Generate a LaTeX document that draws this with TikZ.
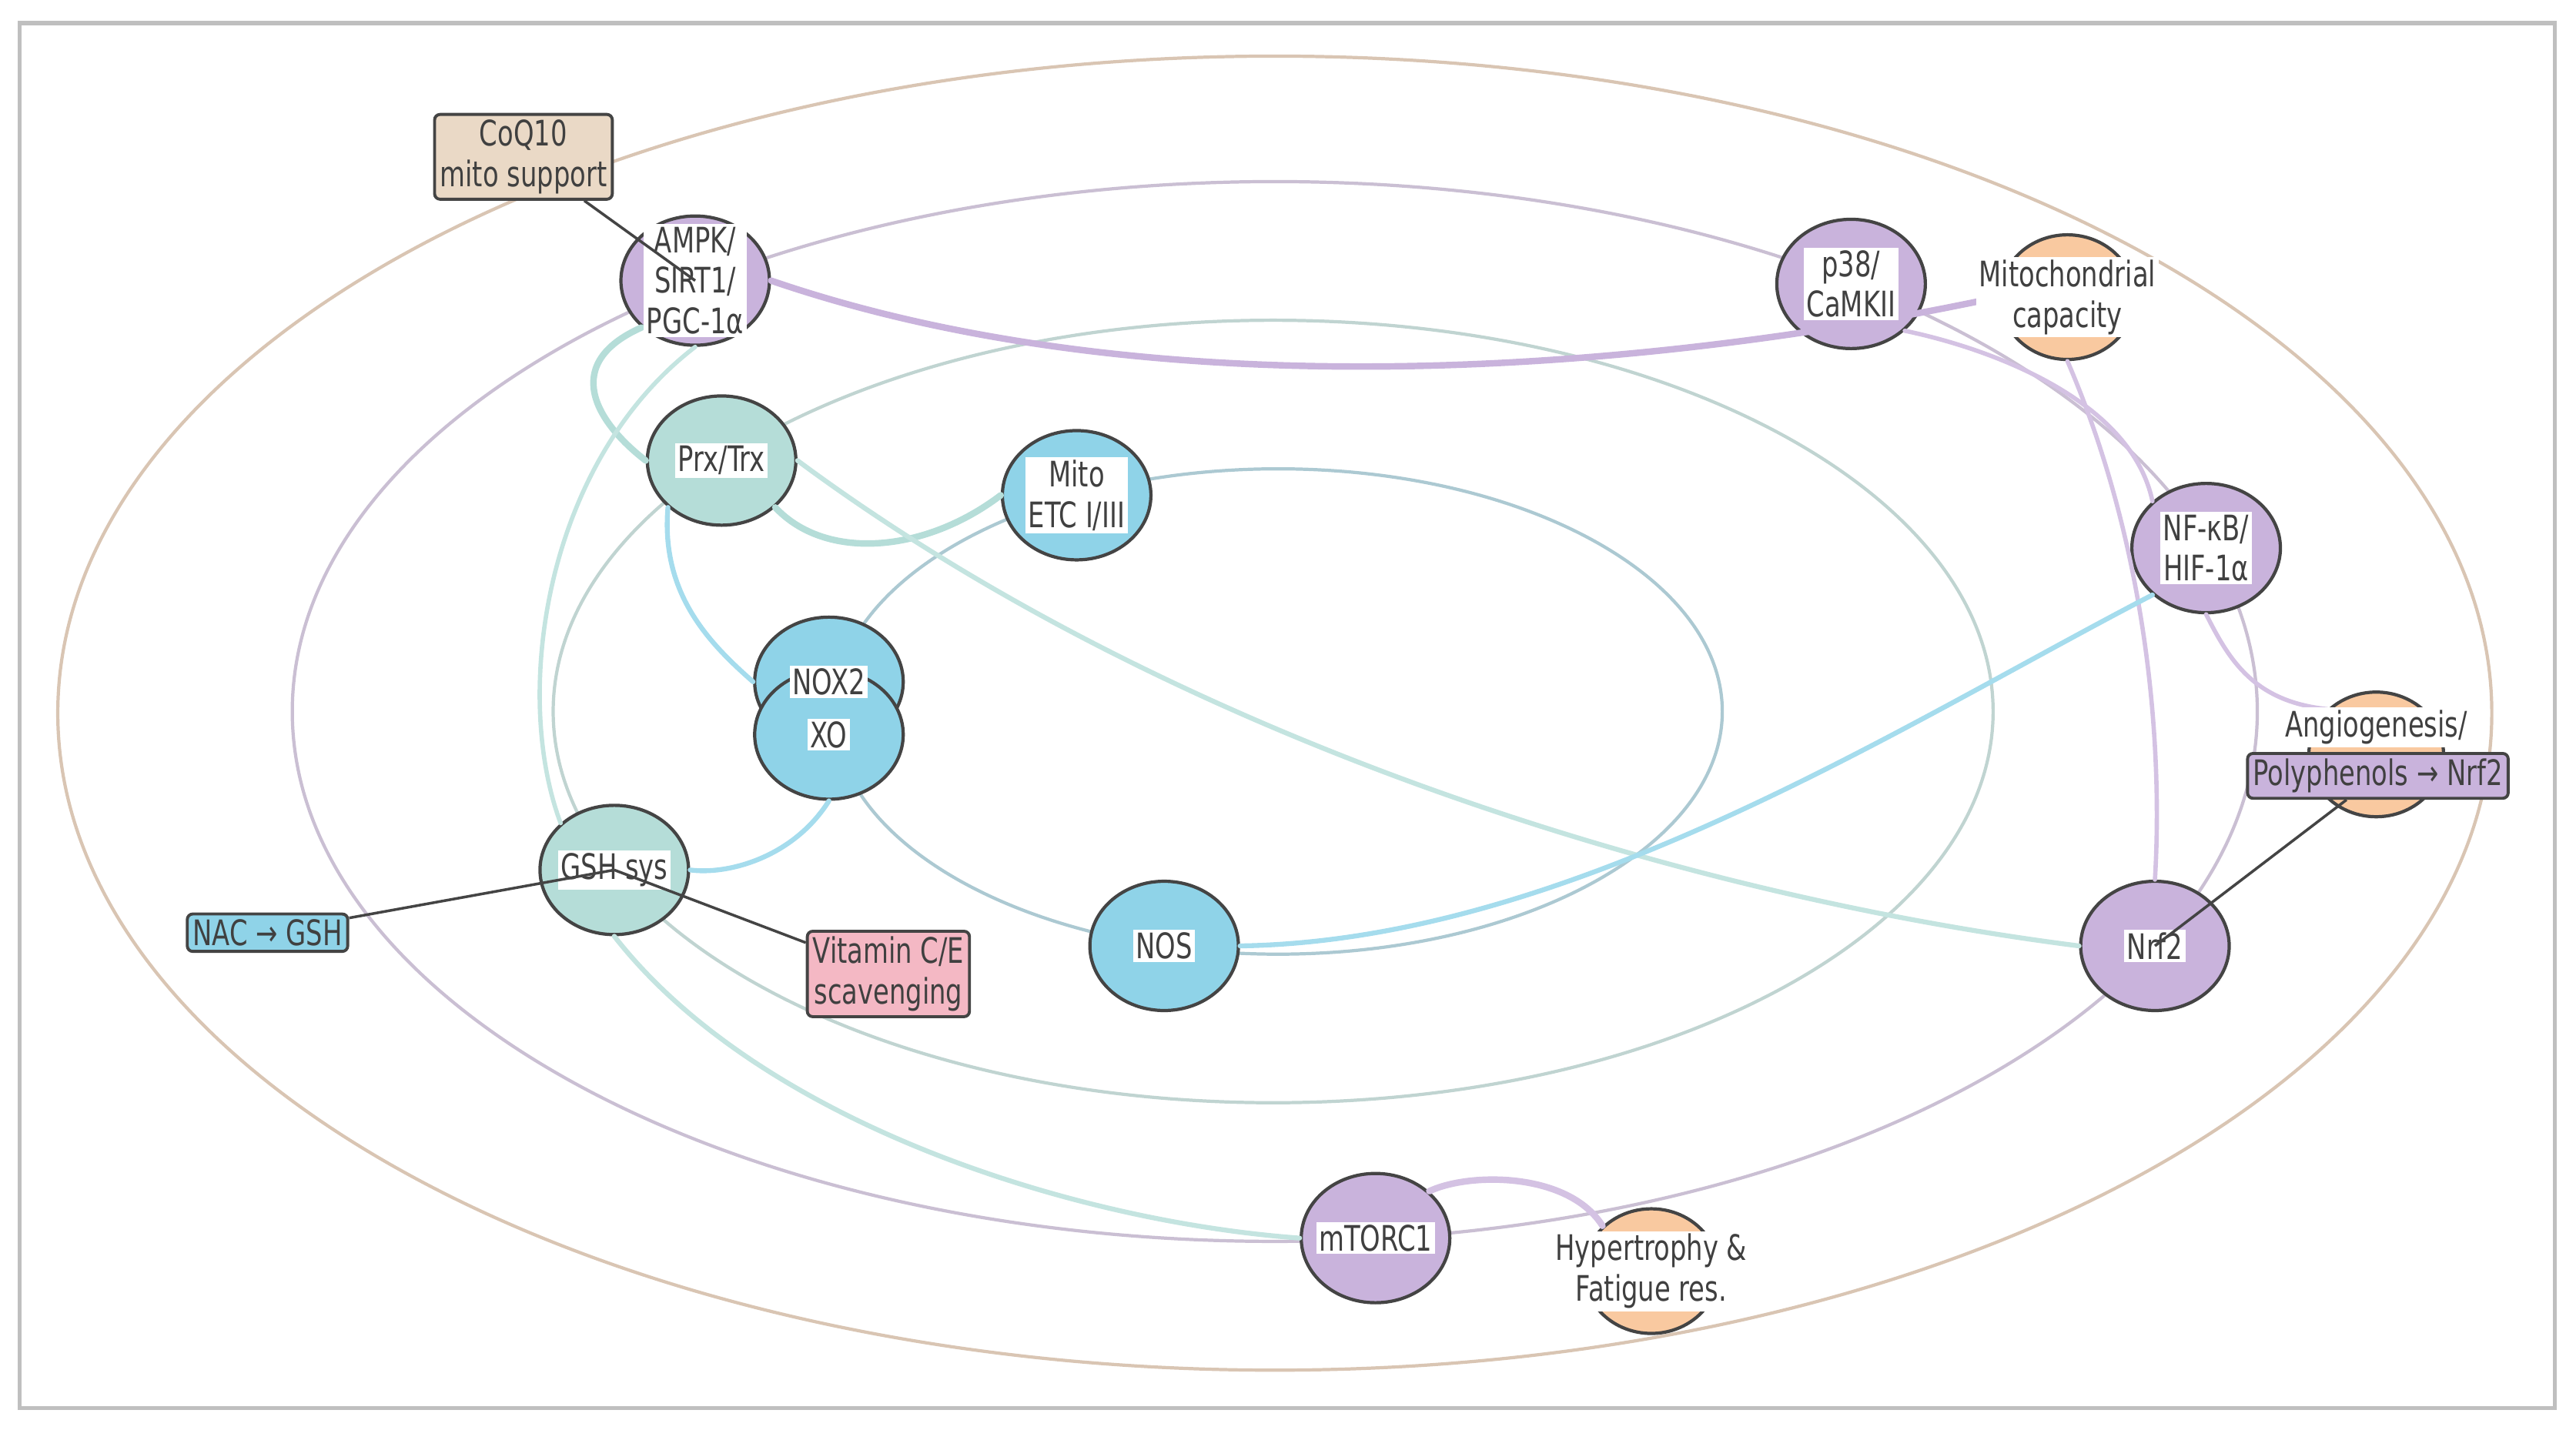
\documentclass[tikz,border=0pt]{standalone}
\usepackage{fontspec}
\setmainfont{DejaVu Sans}[FakeStretch=0.74]
\usetikzlibrary{shapes.geometric}
\usetikzlibrary{positioning}
\definecolor{cpurple}{HTML}{C9B3DC}
\definecolor{cteal}{HTML}{B5DDD8}
\definecolor{cblue}{HTML}{8FD3E8}
\definecolor{corange}{HTML}{F9C9A0}
\definecolor{ctan}{HTML}{EAD9C6}
\definecolor{cpink}{HTML}{F4B8C4}
\definecolor{cedge}{HTML}{444444}

\begin{document}
\begin{tikzpicture}[x=0.02145cm, y=-0.02145cm, semithick,
    font=\fontsize{13}{15}\selectfont, text=black!75,
    state/.style ={ellipse, draw=cedge, line width=1.2pt, minimum width=1.93cm, minimum height=1.68cm},
    outcome/.style ={ellipse, draw=cedge, line width=1.2pt, fill=corange, minimum width=1.75cm, minimum height=1.62cm},
    tag/.style ={fill=white, inner sep=1pt, align=center},
    agent/.style ={rectangle, rounded corners=2pt, draw=cedge, line width=1.1pt, align=center, inner sep=2pt},
    ring/.style ={line width=1.2pt},
    link/.style ={line width=2.4pt, line cap=round},
    annot/.style ={draw=cedge, line width=1pt}]
    \useasboundingbox (0,0) rectangle (1560,866);
    \draw[black!25, line width=1.5pt] (12,14) rectangle (1547,853);
    % rings
    \draw[ring, draw=corange!60!gray!70] (772,432) ellipse [x radius=737, y radius=398];
    \draw[ring, draw=cpurple!70!gray!70] (772,431) ellipse [x radius=595, y radius=321];
    \draw[ring, draw=cteal!70!gray!70] (771,431) ellipse [x radius=436, y radius=237];
    \draw[ring, draw=cblue!60!gray!70] (774,431) ellipse [x radius=269, y radius=147];

    % nodes
    \node[state, fill=cpurple] (ampk) at (421,170) {};
    \node[state, fill=cteal] (prx) at (437,279) {};
    \node[state, fill=cblue] (etc) at (652,300) {};
    \node[state, fill=cblue] (nox) at (502,413) {};
    \node[state, fill=cblue] (xo) at (502,445) {};
    \node[state, fill=cteal] (gsh) at (372,527) {};
    \node[state, fill=cblue] (nos) at (705,573) {};
    \node[state, fill=cpurple] (p38) at (1121,172) {};
    \node[outcome] (mcap) at (1252,180) {};
    \node[state, fill=cpurple] (nfkb) at (1336,332) {};
    \node[outcome] (angio) at (1439,457) {};
    \node[state, fill=cpurple] (nrf) at (1305,573) {};
    \node[state, fill=cpurple] (mtor) at (833,750) {};
    \node[outcome] (hyper) at (1000,770) {};

    % links
    \draw[link, cpurple] (ampk.east) .. controls (700,250) and (1000,225) .. (mcap.west);
    \draw[link, cpurple!80, line width=1.6pt] (p38.south east) .. controls (1200,210) and (1290,240) .. (nfkb.north west);
    \draw[link, cpurple!80, line width=1.6pt] (mcap.south) .. controls (1300,330) and (1310,450) .. (nrf.north);
    \draw[link, cpurple!80, line width=1.6pt] (nfkb.south) .. controls (1350,400) and (1365,425) .. (angio.north west);
    \draw[link, cpurple!80] (mtor.north east) .. controls (890,710) and (950,710) .. (hyper.north west);
    \draw[link, cteal] (ampk.south west) .. controls (340,220) and (360,255) .. (prx.west);
    \draw[link, cteal!80, line width=1.6pt] (ampk.south) .. controls (330,280) and (310,420) .. (gsh.north west);
    \draw[link, cteal] (prx.south east) .. controls (500,340) and (560,335) .. (etc.west);
    \draw[link, cblue!80, line width=1.8pt] (prx.south west) .. controls (400,360) and (430,390) .. (nox.west);
    \draw[link, cteal!80, line width=1.8pt] (prx.east) .. controls (700,440) and (1000,540) .. (nrf.west);
    \draw[link, cblue!80, line width=1.8pt] (xo.south) .. controls (480,520) and (440,530) .. (gsh.east);
    \draw[link, cblue!80, line width=1.8pt] (nos.east) .. controls (950,570) and (1150,440) .. (nfkb.south west);
    \draw[link, cteal!80, line width=1.8pt] (gsh.south) .. controls (460,680) and (650,740) .. (mtor.west);

    % labels
    \node[tag] at (ampk) {AMPK/\\SIRT1/\\PGC-1α};
    \node[tag] at (prx) {Prx/Trx};
    \node[tag] at (etc) {Mito\\ETC I/III};
    \node[tag] at (nox) {NOX2};
    \node[tag] at (xo) {XO};
    \node[tag] at (gsh) {GSH sys};
    \node[tag] at (nos) {NOS};
    \node[tag] at (p38) {p38/\\CaMKII};
    \node[tag] at (mcap) {Mitochondrial\\capacity};
    \node[tag] at (nfkb) {NF-κB/\\HIF-1α};
    \node[tag] at ([yshift=10pt]angio) {Angiogenesis/};
    \node[tag] at (nrf) {Nrf2};
    \node[tag] at (mtor) {mTORC1};
    \node[tag] at (hyper) {Hypertrophy \&\\Fatigue res.};

    % agents
    \node[agent, fill=ctan] (coq) at (317,95) {CoQ10\\mito support};
    \node[agent, fill=cblue] (nac) at (162,565) {NAC → GSH};
    \node[agent, fill=cpink] (vit) at (538,590) {Vitamin C/E\\scavenging};
    \node[agent, fill=cpurple] (poly) at (1440,470) {Polyphenols → Nrf2};
    \draw[annot] (coq) -- (ampk.center);
    \draw[annot] (nac) -- (gsh.center);
    \draw[annot] (vit) -- (gsh.center);
    \draw[annot] (poly) -- (nrf.center);
\end{tikzpicture}
\end{document}
